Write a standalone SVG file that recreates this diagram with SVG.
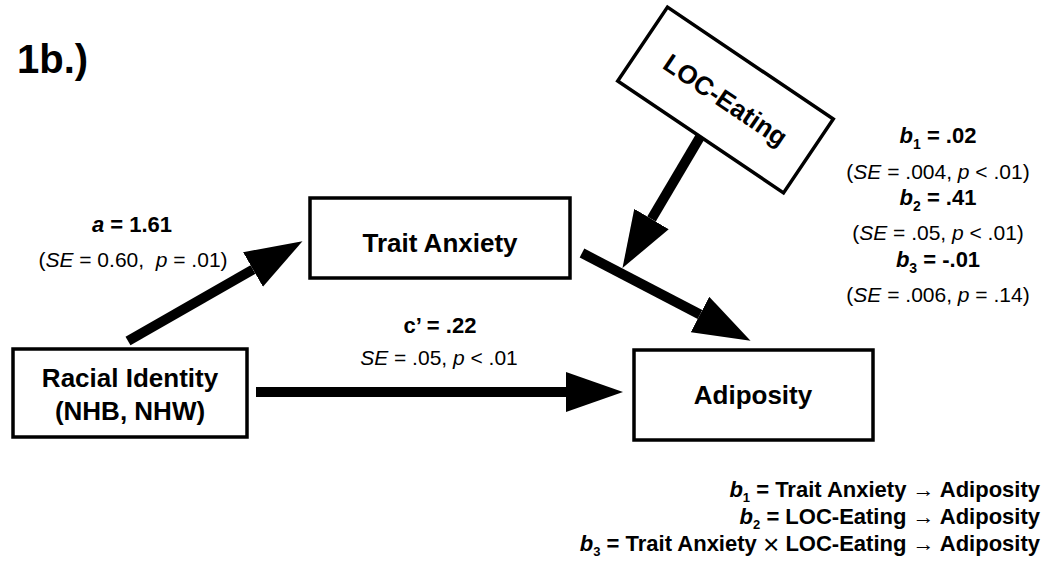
<svg xmlns="http://www.w3.org/2000/svg" width="1047" height="561" viewBox="0 0 1047 561">
<defs>
<style>
text{font-family:"Liberation Sans",Arial,Helvetica,sans-serif;fill:#000}
.node{fill:#fff;stroke:#000;stroke-width:3.5}
.lbl{font-size:26px;font-weight:bold;text-anchor:middle}
.coef{font-size:22px;font-weight:bold;text-anchor:middle}
.se{font-size:21px;text-anchor:middle}
.leg{font-size:22px;font-weight:bold;text-anchor:end}
.shaft{stroke:#000;stroke-width:10;fill:none;marker-end:url(#ah)}
</style>
<marker id="ah" markerUnits="userSpaceOnUse" viewBox="0 0 57 40" refX="0" refY="20" markerWidth="57" markerHeight="40" orient="auto">
<path d="M0,0 L57,20 L0,40 Z" fill="#000"/>
</marker>
</defs>
<rect width="1047" height="561" fill="#fff"/>
<text x="17" y="73" style="font-size:40px;font-weight:bold">1b.)</text>

<g id="connectors">
<line class="shaft" x1="128" y1="341" x2="253" y2="269.5"/>
<line class="shaft" x1="256" y1="392" x2="566" y2="392"/>
<line class="shaft" x1="582" y1="253" x2="700" y2="314.5"/>
<line class="shaft" x1="700" y1="137" x2="651.5" y2="219"/>
</g>

<g id="node-racial">
<rect class="node" x="13" y="349" width="234" height="88"/>
<text class="lbl" x="130" y="387">Racial Identity</text>
<text class="lbl" x="130" y="420">(NHB, NHW)</text>
</g>
<g id="node-trait">
<rect class="node" x="310" y="198" width="260" height="80"/>
<text class="lbl" x="440" y="252">Trait Anxiety</text>
</g>
<g id="node-adiposity">
<rect class="node" x="634" y="350" width="239" height="90"/>
<text class="lbl" x="753" y="404">Adiposity</text>
</g>
<g id="node-loc" transform="translate(725.5,100) rotate(34)">
<rect class="node" x="-100" y="-44.5" width="200" height="89"/>
<text class="lbl" x="0" y="9">LOC-Eating</text>
</g>

<g id="label-a">
<text class="coef" x="132" y="232"><tspan font-style="italic">a</tspan> = 1.61</text>
<text class="se" x="133" y="267" xml:space="preserve">(<tspan font-style="italic">SE</tspan> = 0.60,  <tspan font-style="italic">p</tspan> = .01)</text>
</g>
<g id="label-c">
<text class="coef" x="440" y="333">c’ = .22</text>
<text class="se" x="439" y="365"><tspan font-style="italic">SE</tspan> = .05, <tspan font-style="italic">p</tspan> &lt; .01</text>
</g>
<g id="label-b">
<text class="coef" x="938" y="143"><tspan font-style="italic">b</tspan><tspan font-size="14" dy="6">1</tspan><tspan dy="-6"> = .02</tspan></text>
<text class="se" x="938" y="179">(<tspan font-style="italic">SE</tspan> = .004, <tspan font-style="italic">p</tspan> &lt; .01)</text>
<text class="coef" x="938" y="205"><tspan font-style="italic">b</tspan><tspan font-size="14" dy="6">2</tspan><tspan dy="-6"> = .41</tspan></text>
<text class="se" x="938" y="240">(<tspan font-style="italic">SE</tspan> = .05, <tspan font-style="italic">p</tspan> &lt; .01)</text>
<text class="coef" x="938" y="267"><tspan font-style="italic">b</tspan><tspan font-size="14" dy="6">3</tspan><tspan dy="-6"> = -.01</tspan></text>
<text class="se" x="938" y="302">(<tspan font-style="italic">SE</tspan> = .006, <tspan font-style="italic">p</tspan> = .14)</text>
</g>

<g id="legend">
<text class="leg" x="1040" y="497"><tspan font-style="italic">b</tspan><tspan font-size="13" dy="5">1</tspan><tspan dy="-5"> = Trait Anxiety → Adiposity</tspan></text>
<text class="leg" x="1040" y="524"><tspan font-style="italic">b</tspan><tspan font-size="13" dy="5">2</tspan><tspan dy="-5"> = LOC-Eating → Adiposity</tspan></text>
<text class="leg" x="1040" y="551"><tspan font-style="italic">b</tspan><tspan font-size="13" dy="5">3</tspan><tspan dy="-5"> = Trait Anxiety </tspan><tspan font-weight="normal" font-size="28" dy="3">×</tspan><tspan dy="-3"> LOC-Eating → Adiposity</tspan></text>
</g>
</svg>
